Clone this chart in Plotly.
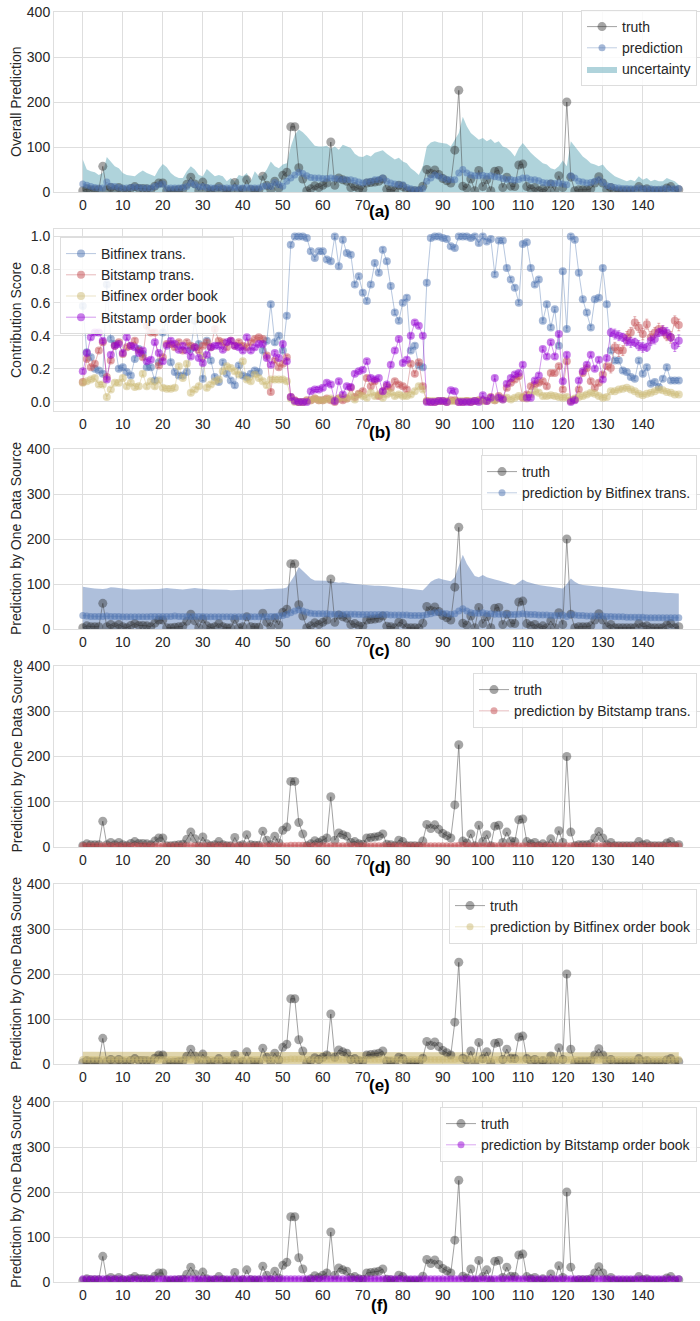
import plotly.graph_objects as go

# ---------------- data ----------------
idx = list(range(150))
xticks = list(range(0, 150, 10))

truth = [3, 7, 5, 5, 5, 57, 5, 10, 5, 10,
         5, 3, 8, 12, 8, 8, 7, 5, 13, 20,
         20, 3, 3, 4, 5, 6, 17, 33, 18, 3,
         22, 7, 3, 5, 12, 5, 3, 3, 21, 3,
         5, 27, 5, 4, 4, 35, 15, 5, 24, 9,
         37, 44, 145, 145, 54, 29, 3, 7, 14, 10,
         15, 20, 111, 15, 31, 27, 24, 10, 12, 7,
         6, 20, 21, 22, 24, 29, 6, 5, 3, 15,
         12, 3, 3, 3, 2, 13, 50, 41, 49, 39,
         30, 25, 20, 93, 226, 13, 9, 29, 3, 48,
         12, 27, 3, 46, 48, 10, 33, 13, 12, 60,
         62, 12, 7, 10, 3, 7, 3, 18, 3, 36,
         10, 200, 33, 3, 5, 5, 5, 7, 20, 34,
         20, 5, 10, 3, 3, 3, 3, 3, 3, 12,
         5, 7, 3, 3, 3, 3, 9, 12, 3, 5]

overall_pred = [18, 15, 12, 10, 9, 9, 22, 13, 12, 10,
                9, 9, 10, 11, 10, 9, 9, 9, 12, 16,
                18, 9, 9, 9, 9, 10, 12, 20, 16, 11,
                12, 10, 9, 9, 10, 9, 9, 9, 10, 9,
                9, 10, 9, 9, 9, 12, 14, 12, 21, 16,
                13, 24, 31, 38, 44, 41, 36, 32, 31, 31,
                30, 30, 31, 30, 29, 28, 27, 27, 25, 22,
                20, 22, 24, 27, 28, 31, 24, 20, 18, 16,
                16, 10, 7, 5, 5, 8, 24, 31, 38, 35,
                31, 28, 27, 27, 42, 50, 42, 38, 36, 36,
                37, 35, 36, 34, 33, 30, 28, 28, 26, 28,
                31, 31, 27, 27, 25, 21, 20, 20, 19, 20,
                18, 16, 36, 31, 24, 22, 20, 21, 24, 27,
                21, 14, 12, 10, 9, 8, 8, 7, 7, 9,
                7, 7, 7, 6, 6, 7, 8, 7, 7, 8]

overall_upper = [72, 50, 46, 44, 38, 42, 78, 68, 57, 53,
                 42, 38, 37, 35, 42, 48, 42, 38, 35, 51,
                 62, 55, 42, 35, 31, 31, 46, 57, 50, 38,
                 35, 51, 42, 35, 38, 35, 24, 31, 24, 38,
                 35, 42, 24, 46, 35, 38, 50, 68, 57, 53,
                 61, 64, 101, 127, 139, 133, 124, 113, 103, 101,
                 101, 103, 96, 101, 94, 105, 101, 98, 85, 79,
                 78, 83, 79, 87, 90, 93, 85, 79, 72, 76,
                 68, 64, 53, 46, 38, 57, 101, 110, 113, 110,
                 109, 107, 101, 116, 131, 167, 146, 131, 124, 116,
                 120, 113, 118, 109, 113, 101, 98, 90, 79, 98,
                 109, 98, 87, 79, 72, 64, 61, 53, 50, 57,
                 70, 57, 113, 101, 90, 79, 72, 64, 61, 57,
                 61, 50, 42, 35, 31, 27, 24, 27, 24, 35,
                 27, 31, 24, 27, 24, 24, 31, 27, 24, 16]

# contribution scores
score_bfx_trans = [0.58, 0.30, 0.27, 0.20, 0.19, 0.17, 0.71, 0.38, 0.35, 0.20,
                   0.21, 0.18, 0.16, 0.26, 0.32, 0.29, 0.21, 0.21, 0.13, 0.24,
                   0.42, 0.50, 0.24, 0.18, 0.16, 0.16, 0.18, 0.32, 0.49, 0.35,
                   0.14, 0.37, 0.25, 0.15, 0.12, 0.24, 0.17, 0.13, 0.10, 0.22,
                   0.16, 0.15, 0.17, 0.19, 0.18, 0.31, 0.37, 0.59, 0.36, 0.40,
                   0.31, 0.52, 0.95, 1.0, 1.0, 1.0, 0.99, 0.91, 0.87, 0.91,
                   0.91, 0.86, 0.85, 1.0, 0.82, 0.98, 0.90, 0.89, 0.71, 0.76,
                   0.66, 0.61, 0.71, 0.84, 0.78, 0.92, 0.85, 0.70, 0.54, 0.49,
                   0.60, 0.63, 0.31, 0.34, 0.22, 0.21, 0.72, 0.99, 1.0, 1.0,
                   0.99, 0.985, 0.94, 0.93, 1.0, 1.0, 1.0, 0.99, 1.0, 0.96,
                   1.0, 0.97, 0.985, 0.77, 0.975, 0.975, 0.81, 0.74, 0.69, 0.60,
                   0.955, 0.965, 0.81, 0.71, 0.74, 0.49, 0.59, 0.45, 0.56, 0.34,
                   0.79, 0.44, 1.0, 0.98, 0.78, 0.62, 0.54, 0.45, 0.62, 0.63,
                   0.81, 0.59, 0.31, 0.25, 0.25, 0.19, 0.18, 0.15, 0.14, 0.25,
                   0.17, 0.21, 0.11, 0.12, 0.09, 0.14, 0.21, 0.13, 0.13, 0.13]

score_bst_trans = [0.12, 0.26, 0.21, 0.23, 0.31, 0.36, 0.15, 0.25, 0.34, 0.36,
                   0.29, 0.33, 0.34, 0.37, 0.31, 0.27, 0.46, 0.42, 0.42, 0.22,
                   0.27, 0.35, 0.35, 0.33, 0.36, 0.31, 0.36, 0.34, 0.33, 0.31,
                   0.34, 0.36, 0.33, 0.44, 0.37, 0.36, 0.33, 0.37, 0.34, 0.36,
                   0.34, 0.33, 0.36, 0.38, 0.39, 0.38, 0.28, 0.06, 0.25, 0.21,
                   0.23, 0.27, 0.03, 0.01, 0.0, 0.0, 0.01, 0.01, 0.02, 0.01,
                   0.01, 0.02, 0.01, 0.0, 0.02, 0.01, 0.02, 0.085, 0.03, 0.05,
                   0.065, 0.145, 0.095, 0.125, 0.035, 0.065, 0.095, 0.085, 0.125, 0.105,
                   0.095, 0.075, 0.23, 0.17, 0.24, 0.095, 0.005, 0.0, 0.0, 0.005,
                   0.005, 0.0, 0.01, 0.01, 0.0, 0.0, 0.005, 0.0, 0.005, 0.01,
                   0.01, 0.005, 0.03, 0.01, 0.035, 0.02, 0.085, 0.115, 0.135, 0.155,
                   0.025, 0.045, 0.095, 0.105, 0.115, 0.125, 0.095, 0.175, 0.175, 0.215,
                   0.075, 0.245, 0.005, 0.015, 0.075, 0.175, 0.205, 0.125, 0.085, 0.115,
                   0.165, 0.215, 0.205, 0.33, 0.31, 0.31, 0.39, 0.42, 0.48, 0.45,
                   0.41, 0.47, 0.39, 0.42, 0.44, 0.43, 0.40, 0.39, 0.49, 0.465]

score_bfx_ob = [0.115, 0.125, 0.135, 0.145, 0.105, 0.105, 0.03, 0.075, 0.115, 0.115,
                0.145, 0.095, 0.115, 0.09, 0.095, 0.17, 0.095, 0.125, 0.095, 0.13,
                0.085, 0.08, 0.08, 0.085, 0.215, 0.145, 0.23, 0.055, 0.075, 0.095,
                0.275, 0.085, 0.105, 0.125, 0.135, 0.185, 0.215, 0.205, 0.185, 0.165,
                0.245, 0.135, 0.125, 0.165, 0.145, 0.125, 0.10, 0.135, 0.135, 0.135,
                0.135, 0.125, 0.02, 0.0, 0.0, 0.0, 0.005, 0.01, 0.02, 0.01,
                0.01, 0.015, 0.02, 0.01, 0.02, 0.03, 0.02, 0.035, 0.015, 0.045,
                0.035, 0.025, 0.055, 0.035, 0.045, 0.025, 0.045, 0.055, 0.035, 0.045,
                0.035, 0.035, 0.045, 0.065, 0.095, 0.075, 0.005, 0.005, 0.005, 0.005,
                0.005, 0.005, 0.005, 0.005, 0.005, 0.005, 0.005, 0.005, 0.005, 0.005,
                0.005, 0.01, 0.015, 0.01, 0.02, 0.015, 0.025, 0.015, 0.025, 0.035,
                0.03, 0.02, 0.045, 0.065, 0.055, 0.035, 0.035, 0.04, 0.035, 0.03,
                0.025, 0.03, 0.01, 0.02, 0.03, 0.035, 0.045, 0.055, 0.05, 0.035,
                0.025, 0.03, 0.065, 0.065, 0.075, 0.08, 0.085, 0.075, 0.065, 0.05,
                0.04, 0.05, 0.055, 0.065, 0.075, 0.07, 0.06, 0.055, 0.045, 0.045]

score_bst_ob = [0.185, 0.295, 0.39, 0.42, 0.42, 0.37, 0.135, 0.285, 0.34, 0.35,
                0.295, 0.39, 0.34, 0.33, 0.295, 0.31, 0.245, 0.255, 0.36, 0.295,
                0.245, 0.34, 0.37, 0.35, 0.315, 0.34, 0.31, 0.275, 0.33, 0.265,
                0.235, 0.285, 0.33, 0.34, 0.34, 0.315, 0.36, 0.37, 0.34, 0.33,
                0.31, 0.39, 0.31, 0.33, 0.35, 0.35, 0.265, 0.225, 0.295, 0.265,
                0.35, 0.245, 0.03, 0.005, 0.0, 0.0, 0.0, 0.065, 0.075, 0.075,
                0.085, 0.115, 0.105, 0.005, 0.125, 0.045, 0.095, 0.09, 0.17, 0.185,
                0.195, 0.245, 0.145, 0.135, 0.145, 0.065, 0.105, 0.225, 0.31, 0.38,
                0.235, 0.255, 0.40, 0.48, 0.46, 0.40, 0.0, 0.0, 0.0, 0.005,
                0.005, 0.0, 0.07, 0.065, 0.0, 0.0, 0.0, 0.0, 0.005, 0.0,
                0.04, 0.005, 0.025, 0.145, 0.025, 0.015, 0.11, 0.145, 0.165, 0.175,
                0.225, 0.025, 0.025, 0.13, 0.16, 0.32, 0.275, 0.36, 0.275, 0.41,
                0.125, 0.285, 0.0, 0.01, 0.13, 0.185, 0.225, 0.285, 0.20, 0.255,
                0.135, 0.265, 0.42, 0.41, 0.40, 0.39, 0.37, 0.36, 0.36, 0.34,
                0.33, 0.33, 0.37, 0.38, 0.42, 0.43, 0.42, 0.39, 0.34, 0.37]

err_small = [0.012] * 132
err_bst_trans_tail = [0.03, 0.03, 0.035, 0.03, 0.035, 0.03, 0.035, 0.03, 0.035,
                      0.03, 0.035, 0.03, 0.035, 0.03, 0.03, 0.035, 0.03, 0.035]
err_bst_ob_tail = [0.025, 0.03, 0.03, 0.025, 0.03, 0.03, 0.025, 0.03, 0.03,
                   0.025, 0.03, 0.03, 0.025, 0.03, 0.03, 0.025, 0.035, 0.035]

# single source predictions
bfx_trans_pred = [30, 29, 28, 28, 28, 28, 29, 28, 28, 28,
                  27, 27, 27, 27, 27, 27, 27, 28, 28, 28,
                  28, 28, 28, 29, 28, 28, 28, 28, 28, 28,
                  28, 27, 27, 27, 27, 27, 27, 27, 27, 27,
                  27, 27, 27, 27, 27, 27, 27, 28, 28, 29,
                  30, 32, 36, 40, 43, 40, 37, 35, 34, 34,
                  34, 34, 33, 33, 33, 33, 33, 33, 33, 32,
                  32, 32, 32, 32, 32, 32, 32, 31, 31, 31,
                  31, 31, 30, 30, 30, 30, 32, 34, 36, 37,
                  35, 34, 33, 34, 40, 45, 40, 36, 35, 35,
                  36, 34, 34, 33, 33, 33, 32, 32, 32, 33,
                  34, 33, 32, 32, 31, 31, 31, 30, 30, 30,
                  31, 28, 32, 31, 30, 30, 29, 29, 29, 29,
                  29, 28, 28, 27, 27, 27, 26, 26, 26, 26,
                  26, 25, 25, 25, 25, 25, 25, 25, 25, 25]
bfx_trans_upper = [94, 92, 91, 90, 89, 89, 90, 93, 92, 91,
                   89, 88, 88, 88, 88, 89, 89, 88, 88, 89,
                   90, 91, 90, 89, 88, 88, 89, 90, 91, 90,
                   89, 89, 88, 88, 88, 87, 87, 86, 86, 86,
                   87, 88, 88, 87, 87, 88, 89, 89, 89, 90,
                   90, 92, 105, 120, 138, 130, 120, 112, 108, 108,
                   108, 107, 106, 104, 103, 104, 102, 101, 100, 99,
                   98, 97, 96, 96, 96, 96, 95, 94, 93, 92,
                   91, 90, 89, 88, 87, 86, 95, 105, 110, 113,
                   110, 108, 106, 115, 140, 165, 145, 130, 118, 115,
                   120, 115, 112, 110, 108, 105, 102, 100, 98, 105,
                   110, 105, 102, 100, 98, 96, 95, 94, 93, 92,
                   90, 100, 112, 105, 100, 98, 97, 96, 96, 95,
                   94, 93, 92, 91, 90, 89, 88, 87, 86, 85,
                   84, 83, 82, 82, 81, 81, 80, 80, 79, 79]

bst_trans_pred = [3, 3, 3, 3, 3, 3, 3, 3, 3, 3,
                  3, 3, 3, 3, 3, 3, 3, 3, 3, 3,
                  3, 3, 3, 3, 3, 3, 3, 3, 3, 3,
                  3, 3, 3, 3, 3, 3, 3, 3, 3, 3,
                  3, 3, 3, 3, 3, 3, 3, 3, 3, 3,
                  3, 3, 4, 4, 4, 4, 3, 3, 3, 3,
                  3, 3, 3, 3, 3, 3, 3, 3, 3, 3,
                  3, 3, 3, 3, 3, 3, 3, 3, 3, 3,
                  3, 3, 3, 3, 3, 3, 3, 3, 3, 3,
                  3, 3, 3, 3, 4, 4, 4, 3, 3, 3,
                  3, 3, 3, 3, 3, 3, 3, 3, 3, 3,
                  3, 3, 3, 3, 3, 3, 3, 3, 3, 3,
                  3, 3, 3, 3, 3, 3, 3, 3, 3, 3,
                  3, 3, 3, 3, 3, 3, 3, 3, 3, 3,
                  3, 3, 3, 3, 3, 3, 3, 3, 3, 3]
bst_trans_upper = [6, 6, 6, 6, 6, 6, 6, 6, 6, 6,
                   6, 6, 6, 6, 6, 6, 6, 6, 6, 6,
                   6, 6, 6, 6, 6, 6, 6, 6, 6, 6,
                   6, 6, 6, 6, 6, 6, 6, 6, 6, 6,
                   6, 6, 6, 6, 6, 6, 6, 6, 6, 6,
                   6, 6, 7, 7, 7, 7, 6, 6, 6, 6,
                   6, 6, 6, 6, 6, 6, 6, 6, 6, 6,
                   6, 6, 6, 6, 6, 6, 6, 6, 6, 6,
                   6, 6, 6, 6, 6, 6, 6, 6, 6, 6,
                   6, 6, 6, 6, 7, 7, 7, 6, 6, 6,
                   6, 6, 6, 6, 6, 6, 6, 6, 6, 6,
                   6, 6, 6, 6, 6, 6, 6, 6, 6, 6,
                   6, 6, 6, 6, 6, 6, 6, 6, 6, 6,
                   6, 6, 6, 6, 6, 6, 6, 6, 6, 6,
                   6, 6, 6, 6, 6, 6, 6, 6, 6, 6]

bfx_ob_pred = [10, 10, 10, 10, 10, 10, 10, 10, 10, 10,
               10, 10, 10, 10, 10, 10, 10, 10, 10, 10,
               10, 10, 10, 10, 10, 10, 10, 10, 10, 10,
               10, 10, 10, 10, 10, 10, 10, 10, 10, 10,
               10, 10, 10, 10, 10, 10, 10, 10, 10, 10,
               10, 10, 11, 11, 11, 11, 10, 10, 10, 10,
               10, 10, 10, 10, 10, 10, 10, 10, 10, 10,
               10, 10, 10, 10, 10, 10, 10, 10, 10, 10,
               10, 10, 10, 10, 10, 10, 10, 10, 10, 10,
               10, 10, 10, 10, 11, 11, 11, 10, 10, 10,
               10, 10, 10, 10, 10, 10, 10, 10, 10, 10,
               10, 10, 10, 10, 10, 10, 10, 10, 10, 10,
               10, 10, 10, 10, 10, 10, 10, 10, 10, 10,
               10, 10, 10, 10, 10, 10, 10, 10, 10, 10,
               10, 10, 10, 10, 10, 10, 10, 10, 10, 10]
bfx_ob_upper = [27, 27, 27, 27, 27, 27, 27, 27, 27, 27,
                27, 27, 27, 27, 27, 27, 27, 27, 27, 27,
                27, 27, 27, 27, 27, 27, 27, 27, 27, 27,
                27, 27, 27, 27, 27, 27, 27, 27, 27, 27,
                27, 27, 27, 27, 27, 27, 27, 27, 27, 27,
                27, 27, 27, 27, 27, 27, 27, 27, 27, 27,
                27, 27, 27, 27, 27, 27, 27, 27, 27, 27,
                26, 26, 26, 26, 26, 26, 26, 26, 26, 26,
                26, 26, 26, 26, 26, 26, 26, 26, 26, 26,
                26, 26, 26, 26, 26, 26, 26, 26, 26, 26,
                26, 26, 26, 26, 26, 26, 26, 26, 26, 26,
                26, 26, 26, 26, 26, 26, 26, 26, 26, 26,
                26, 26, 26, 26, 26, 26, 26, 26, 26, 26,
                26, 26, 26, 26, 26, 26, 26, 26, 26, 26,
                26, 26, 26, 26, 26, 26, 26, 26, 26, 26]

bst_ob_pred = [7, 7, 7, 7, 7, 7, 7, 7, 7, 7,
               7, 7, 7, 7, 7, 7, 7, 7, 7, 7,
               7, 7, 7, 7, 7, 7, 7, 7, 7, 7,
               7, 7, 7, 7, 7, 7, 7, 7, 7, 7,
               7, 7, 7, 7, 7, 7, 7, 7, 7, 7,
               7, 7, 7, 7, 7, 7, 7, 7, 7, 7,
               7, 7, 7, 7, 7, 7, 7, 7, 7, 7,
               7, 7, 7, 7, 7, 7, 7, 7, 7, 7,
               7, 7, 7, 7, 7, 7, 7, 7, 7, 7,
               7, 7, 7, 7, 7, 7, 7, 7, 7, 7,
               7, 7, 7, 7, 7, 7, 7, 7, 7, 7,
               7, 7, 7, 7, 7, 7, 7, 7, 7, 7,
               7, 7, 7, 7, 7, 7, 7, 7, 7, 7,
               7, 7, 7, 7, 7, 7, 7, 7, 7, 7,
               7, 7, 7, 7, 7, 7, 7, 7, 7, 7]
bst_ob_upper = [11, 11, 11, 11, 11, 11, 11, 11, 11, 11,
                11, 11, 11, 11, 11, 11, 11, 11, 11, 11,
                11, 11, 11, 11, 11, 11, 11, 11, 11, 11,
                11, 11, 11, 11, 11, 11, 11, 11, 11, 11,
                11, 11, 11, 11, 11, 11, 11, 11, 11, 11,
                11, 11, 11, 11, 11, 11, 11, 11, 11, 11,
                11, 11, 11, 11, 11, 11, 11, 11, 11, 11,
                11, 11, 11, 11, 11, 11, 11, 11, 11, 11,
                11, 11, 11, 11, 11, 11, 11, 11, 11, 11,
                11, 11, 11, 11, 11, 11, 11, 11, 11, 11,
                11, 11, 11, 11, 11, 11, 11, 11, 11, 11,
                11, 11, 11, 11, 11, 11, 11, 11, 11, 11,
                11, 11, 11, 11, 11, 11, 11, 11, 11, 11,
                11, 11, 11, 11, 11, 11, 11, 11, 11, 11,
                11, 11, 11, 11, 11, 11, 11, 11, 11, 11]

panel_labels = ["(a)", "(b)", "(c)", "(d)", "(e)", "(f)"]
ytitles = ["Overall Prediction", "Contribution Score", "Prediction by One Data Source",
           "Prediction by One Data Source", "Prediction by One Data Source",
           "Prediction by One Data Source"]

# ---------------- style / layout ----------------
OFF = 0  # body margin removed via post_script below
W, H = 700, 1321
FONT = "Liberation Sans, Arial, sans-serif"
TXT = "#262626"
GRID = "#dedede"

BLUE = (76, 114, 176)
RED = (196, 78, 82)
TAN = (204, 185, 116)
PURPLE = (148, 0, 211)


def rgba(c, a):
    return "rgba(%d,%d,%d,%.2f)" % (c[0], c[1], c[2], a)


def px_x(x):
    return (x - OFF) / W


def px_y(y):
    return 1 - (y - OFF) / H


# panel vertical extents in window pixels (top, bottom)
panel_px = [(12, 192), (229, 411), (449, 629), (666, 847), (884, 1064), (1102, 1282)]
label_px = [211, 432, 650, 868, 1085, 1305]
legend_top_px = [10, 237, 455, 673, 889, 1107]

x_left_px = 54
xrange_ = [-7.2, 154.3]

fig = go.Figure()


def ax(n):
    return ("x" if n == 1 else "x%d" % n), ("y" if n == 1 else "y%d" % n)


def lg(n):
    return "legend" if n == 1 else "legend%d" % n


def add_truth(n, rank=1):
    xa, ya = ax(n)
    fig.add_trace(go.Scatter(
        x=idx, y=truth, mode="lines+markers", name="truth",
        line=dict(color="rgba(70,70,70,0.5)", width=1),
        marker=dict(color="rgba(40,40,40,0.42)", size=9),
        xaxis=xa, yaxis=ya, legend=lg(n), legendrank=rank))


# ---- panel (a)
xa, ya = ax(1)
fig.add_trace(go.Scatter(
    x=idx, y=overall_upper, mode="lines", fill="tozeroy", name="uncertainty",
    line=dict(width=0, color="rgba(110,175,190,0.6)"),
    fillcolor="rgba(110,175,190,0.55)", xaxis=xa, yaxis=ya, legend="legend",
    legendrank=3))
add_truth(1, 1)
fig.add_trace(go.Scatter(
    x=idx, y=overall_pred, mode="lines+markers", name="prediction",
    line=dict(color=rgba(BLUE, 0.35), width=1),
    marker=dict(color=rgba(BLUE, 0.5), size=7),
    xaxis=xa, yaxis=ya, legend="legend", legendrank=2))

# ---- panel (b)
xa, ya = ax(2)
series_b = [
    ("Bitfinex trans.", score_bfx_trans, BLUE, err_small + [0.012] * 18),
    ("Bitstamp trans.", score_bst_trans, RED, err_small + err_bst_trans_tail),
    ("Bitfinex order book", score_bfx_ob, TAN, err_small + [0.008] * 18),
    ("Bitstamp order book", score_bst_ob, PURPLE, err_small + err_bst_ob_tail),
]
for k, (name, vals, col, err) in enumerate(series_b):
    fig.add_trace(go.Scatter(
        x=idx, y=vals, mode="lines+markers", name=name,
        line=dict(color=rgba(col, 0.4), width=1),
        marker=dict(color=rgba(col, 0.5), size=8),
        error_y=dict(type="data", array=err, visible=True, thickness=1, width=1.5,
                     color=rgba(col, 0.45)),
        xaxis=xa, yaxis=ya, legend="legend2", legendrank=k + 1))

# ---- panels (c)-(f)
single = [
    (3, "prediction by Bitfinex trans.", bfx_trans_pred, bfx_trans_upper, BLUE, 0.45),
    (4, "prediction by Bitstamp trans.", bst_trans_pred, bst_trans_upper, RED, 0.35),
    (5, "prediction by Bitfinex order book", bfx_ob_pred, bfx_ob_upper, TAN, 0.6),
    (6, "prediction by Bitstamp order book", bst_ob_pred, bst_ob_upper, PURPLE, 0.3),
]
for n, name, pred, upper, col, fa in single:
    xa, ya = ax(n)
    fig.add_trace(go.Scatter(
        x=idx, y=upper, mode="lines", fill="tozeroy", showlegend=False,
        line=dict(width=0, color=rgba(col, fa)), fillcolor=rgba(col, fa),
        xaxis=xa, yaxis=ya, legend=lg(n), hoverinfo="skip"))
    add_truth(n, 1)
    fig.add_trace(go.Scatter(
        x=idx, y=pred, mode="lines+markers", name=name,
        line=dict(color=rgba(col, 0.35), width=1),
        marker=dict(color=rgba(col, 0.5), size=7),
        xaxis=xa, yaxis=ya, legend=lg(n), legendrank=2))

# ---- axes
layout = dict(
    width=W, height=H, margin=dict(l=0, r=0, t=0, b=0, autoexpand=False),
    paper_bgcolor="white", plot_bgcolor="white",
    font=dict(family=FONT, size=14, color=TXT),
    annotations=[],
)
for n in range(1, 7):
    top, bot = panel_px[n - 1]
    xkey = "xaxis" if n == 1 else "xaxis%d" % n
    ykey = "yaxis" if n == 1 else "yaxis%d" % n
    xa, ya = ax(n)
    layout[xkey] = dict(
        domain=[px_x(x_left_px), 1.0], range=xrange_, anchor=ya, automargin=False,
        tickmode="array", tickvals=xticks, showgrid=True, gridcolor=GRID,
        gridwidth=1, zeroline=False, showline=True, mirror=True, linecolor=GRID,
        tickfont=dict(size=14, color=TXT), ticks="")
    if n == 2:
        yr = [-0.055, 1.045]
        ytv = [0.0, 0.2, 0.4, 0.6, 0.8, 1.0]
        ytt = ["0.0", "0.2", "0.4", "0.6", "0.8", "1.0"]
    else:
        yr = [0, 400]
        ytv = [0, 100, 200, 300, 400]
        ytt = ["0", "100", "200", "300", "400"]
    layout[ykey] = dict(
        domain=[px_y(bot), px_y(top)], range=yr, anchor=xa, automargin=False,
        tickmode="array", tickvals=ytv, ticktext=ytt, showgrid=True,
        gridcolor=GRID, gridwidth=1, zeroline=False, showline=True, mirror=True,
        linecolor=GRID, tickfont=dict(size=14, color=TXT), ticks="")
    # y titles
    layout["annotations"].append(dict(
        text=ytitles[n - 1], xref="paper", yref="paper", x=px_x(16),
        y=px_y((top + bot) / 2), showarrow=False, textangle=-90,
        font=dict(size=14, color=TXT), xanchor="center", yanchor="middle"))
    # panel labels
    layout["annotations"].append(dict(
        text="<b>%s</b>" % panel_labels[n - 1], xref="paper", yref="paper",
        x=px_x(380), y=px_y(label_px[n - 1]), showarrow=False,
        font=dict(size=17, color="black"), xanchor="center", yanchor="middle"))
    # legends
    lkey = lg(n)
    if n == 2:
        layout[lkey] = dict(x=px_x(60), y=px_y(legend_top_px[n - 1]),
                            xanchor="left", yanchor="top")
    else:
        layout[lkey] = dict(x=px_x(697), y=px_y(legend_top_px[n - 1]),
                            xanchor="right", yanchor="top")
    layout[lkey].update(bgcolor="rgba(255,255,255,0.85)", bordercolor="#dddddd",
                        borderwidth=1, font=dict(size=14, color=TXT),
                        tracegroupgap=0)

fig.update_layout(**layout)
fig.write_html("out.html",
               config={"displayModeBar": False},
               post_script="document.body.style.margin='0';"
                           "document.body.style.overflow='hidden';")
